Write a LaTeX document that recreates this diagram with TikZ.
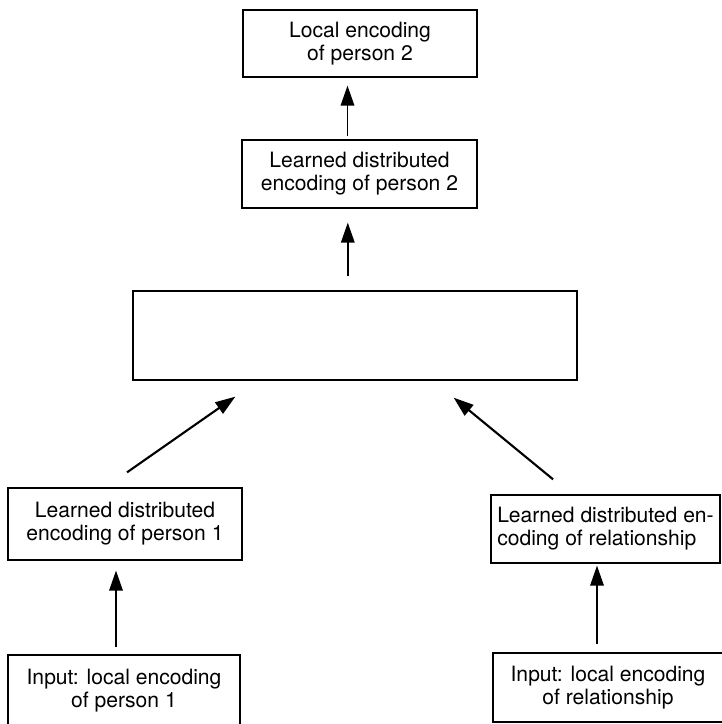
\documentclass[tikz,border=0pt]{standalone}
\usepackage{fontspec}
\setmainfont{TeX Gyre Heros}
\usetikzlibrary{arrows.meta}
\begin{document}
\begin{tikzpicture}[
   x=0.025cm, y=-0.025cm,
   box/.style={draw, line width=0.9pt, inner sep=0pt, align=center,
      font=\fontsize{15}{16.5}\selectfont},
   arr/.style={-{Triangle[length=0.5cm, width=0.34cm]}, line width=1pt},
   slant/.style={arr, line width=1.5pt}
]
   \useasboundingbox (0,0) rectangle (722,724);
   \node[box, minimum width=5.85cm, minimum height=1.675cm] (out) at (360,43.5)
      {Local encoding\\of person 2};
   \node[box, minimum width=5.875cm, minimum height=1.7cm] (hidout) at (359.5,174)
      {Learned distributed\\encoding of person 2};
   \node[box, minimum width=11.1cm, minimum height=2.225cm] (hidden) at (355,335.5) {};
   \node[box, minimum width=5.85cm, minimum height=1.8cm] (p1dist) at (125,524)
      {Learned distributed\\encoding of person 1};
   \node[box, align=left, minimum width=5.725cm, minimum height=1.7cm] (reldist) at (605.5,529)
      {Learned distributed en-\\coding of relationship};
   \node[box, minimum width=5.8cm, minimum height=1.775cm] (p1in) at (124,690.5)
      {Input: local encoding\\of person 1};
   \node[box, minimum width=5.75cm, minimum height=1.725cm] (relin) at (608,687.5)
      {Input: local encoding\\of relationship};

   \draw[arr, shorten <=0.075cm, shorten >=0.2cm]
      ([xshift=-0.3cm]hidout.north) -- ([xshift=-0.3cm]hidout.north |- out.south);
   \draw[arr, shorten <=0.35cm, shorten >=0.35cm]
      ([xshift=-0.18cm]hidden.north) -- ([xshift=-0.18cm]hidden.north |- hidout.south);
   \draw[slant]
      ([shift={(0.05cm,0.375cm)}]p1dist.north) -- ([shift={(2.575cm,-0.4cm)}]hidden.south west);
   \draw[slant]
      ([shift={(-1.31cm,0.375cm)}]reldist.north) -- ([shift={(-3.1cm,-0.425cm)}]hidden.south east);
   \draw[arr, shorten <=0.175cm, shorten >=0.25cm]
      ([xshift=-0.2cm]p1in.north) -- ([xshift=-0.2cm]p1in.north |- p1dist.south);
   \draw[arr, shorten <=0.2cm, shorten >=0.05cm]
      ([xshift=-0.275cm]relin.north) -- ([xshift=-0.275cm]relin.north |- reldist.south);
\end{tikzpicture}
\end{document}
